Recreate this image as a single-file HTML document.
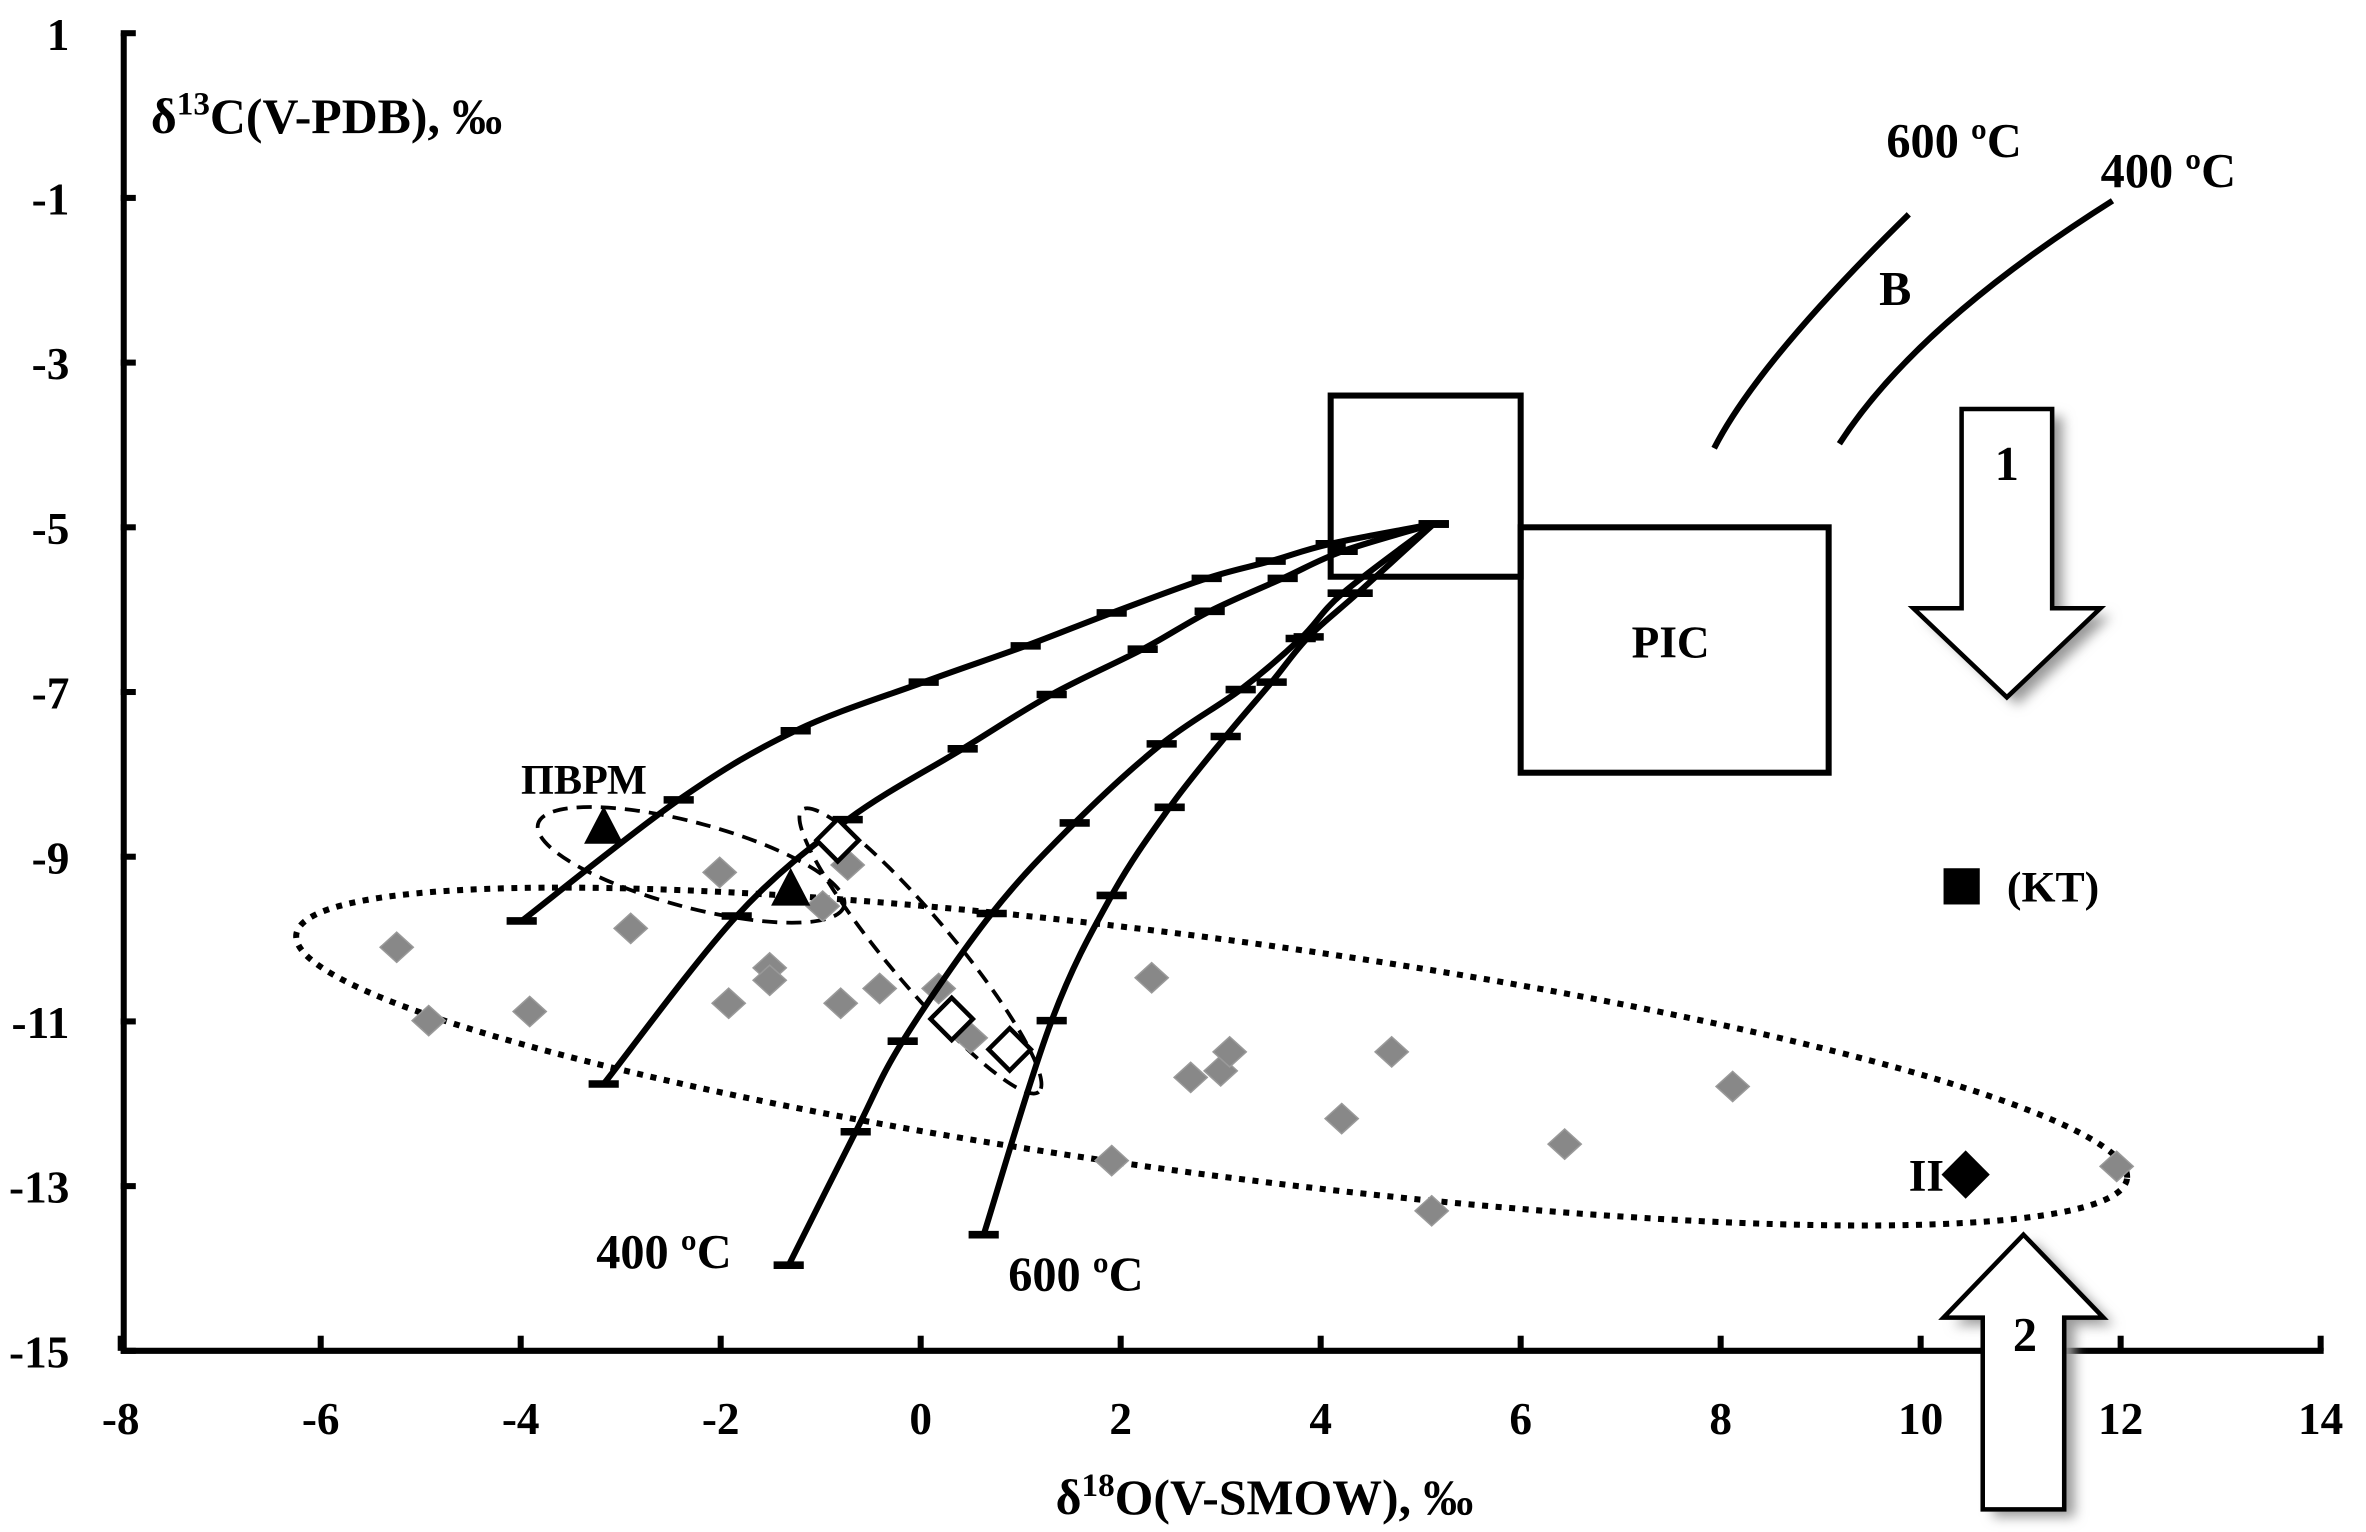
<!DOCTYPE html>
<html><head><meta charset="utf-8">
<style>
html,body{margin:0;padding:0;background:#fff;}
svg{display:block;}
text{font-family:"Liberation Serif",serif;font-weight:bold;fill:#000;}
</style></head>
<body>
<svg id="chart" width="2366" height="1532" viewBox="0 0 1568 1015" preserveAspectRatio="none" xmlns="http://www.w3.org/2000/svg">
<defs>
<filter id="sh" x="-20%" y="-20%" width="160%" height="160%"><feGaussianBlur stdDeviation="4"/></filter>
</defs>
<g id="plot"></g>
</svg>
<script>
const xTicks=[-8,-6,-4,-2,0,2,4,6,8,10,12,14];
const yTicks=[1,-1,-3,-5,-7,-9,-11,-13,-15];
const grayX=[-5.24,-4.92,-3.91,-2.9,-2.01,-1.92,-1.51,-1.51,-0.98,-0.8,-0.41,-0.73,0.18,0.5,1.91,2.31,2.7,3.0,3.09,4.21,4.71,5.11,6.44,8.12,11.96];
const grayY=[-10.1,-10.99,-10.88,-9.87,-9.19,-10.78,-10.35,-10.5,-9.6,-10.78,-10.6,-9.1,-10.6,-11.2,-12.69,-10.47,-11.68,-11.6,-11.37,-12.18,-11.37,-13.3,-12.49,-11.79,-12.76];
const triX=[-3.17,-1.3];
const triY=[-8.66,-9.41];
const openX=[-0.83,0.31,0.89];
const openY=[-8.8,-10.97,-11.34];
const curveAX=[-3.99,-2.42,-1.25,0.03,1.05,1.91,2.86,3.5,4.1,5.13];
const curveAY=[-9.78,-8.31,-7.47,-6.88,-6.44,-6.04,-5.62,-5.41,-5.2,-4.96];
const curveBX=[-3.17,-1.84,-0.73,0.42,1.31,2.22,2.89,3.62,4.22,5.13];
const curveBY=[-11.76,-9.72,-8.55,-7.69,-7.03,-6.48,-6.02,-5.62,-5.29,-4.96];
const curveCX=[-1.32,-0.65,-0.18,0.71,1.54,2.41,3.2,3.8,4.22,5.13];
const curveCY=[-13.96,-12.34,-11.24,-9.69,-8.59,-7.63,-6.97,-6.35,-5.8,-4.96];
const curveDX=[0.63,1.31,1.91,2.49,3.05,3.51,3.88,4.37,5.13];
const curveDY=[-13.59,-10.99,-9.47,-8.4,-7.54,-6.88,-6.33,-5.8,-4.96];
const ktX=[10.41], ktY=[-9.36];
const iiX=[10.45], iiY=[-12.86];

const X=v=>80+(v+8)*66.27;
const Y=v=>22+(1-v)*54.56;
const NS="http://www.w3.org/2000/svg";
const g=document.getElementById('plot');
function mk(tag,attrs,parent){const e=document.createElementNS(NS,tag);for(const k in attrs)e.setAttribute(k,attrs[k]);(parent||g).appendChild(e);return e;}
function txt(s,x,y,size,anchor){const t=mk('text',{x:x,y:y,'font-size':size,'text-anchor':anchor||'start'});t.textContent=s;return t;}

let ya=mk('line',{x1:X(-8)+2,y1:Y(1),x2:X(-8)+2,y2:Y(-15),stroke:'#000','stroke-width':4});


let xa=mk('line',{x1:X(-8),y1:Y(-15),x2:X(14)+2,y2:Y(-15),stroke:'#000','stroke-width':4});


yTicks.forEach(v=>{
  mk('line',{x1:X(-8),y1:Y(v),x2:X(-8)+10,y2:Y(v),stroke:'#000','stroke-width':4});
  const t=txt(String(v),46,Y(v)+11,30,'end');
  
  
});
xTicks.forEach(v=>{
  mk('line',{x1:X(v),y1:Y(-15),x2:X(v),y2:Y(-15)-10,stroke:'#000','stroke-width':4});
  const t=txt(String(v),X(v),Y(-15)+55,30,'middle');
  
  
});
let yt=mk('text',{x:100,y:88,'font-size':33});
yt.innerHTML='δ<tspan font-size="22" dy="-12">13</tspan><tspan dy="12">C(V-PDB), ‰</tspan>';


let xt=mk('text',{x:838,y:1003,'font-size':33,'text-anchor':'middle'});
xt.innerHTML='δ<tspan font-size="22" dy="-12">18</tspan><tspan dy="12">O(V-SMOW), ‰</tspan>';



let b1=mk('rect',{x:X(4.1),y:Y(-3.4),width:X(6)-X(4.1),height:Y(-5.6)-Y(-3.4),fill:'none',stroke:'#000','stroke-width':4});


let b2=mk('rect',{x:X(6),y:Y(-5),width:X(9.08)-X(6),height:Y(-7.98)-Y(-5),fill:'none',stroke:'#000','stroke-width':4});


let pl=txt('PIC',X(7.5),Y(-6.4)+10,30,'middle');



let e1=mk('ellipse',{cx:803,cy:700,rx:612,ry:78,transform:'rotate(7.6 803 700)',fill:'none',stroke:'#000','stroke-width':4,'stroke-dasharray':'4 5'});


let e2=mk('ellipse',{cx:458,cy:573,rx:105,ry:28,transform:'rotate(15 458 573)',fill:'none',stroke:'#000','stroke-width':2.5,'stroke-dasharray':'10 6'});


let e3=mk('ellipse',{cx:610,cy:630,rx:122,ry:22,transform:'rotate(50 610 630)',fill:'none',stroke:'#000','stroke-width':2.5,'stroke-dasharray':'10 6'});



grayX.forEach((v,i)=>{
  const x=X(v),y=Y(grayY[i]);
  const p=mk('polygon',{points:`${x},${y-10} ${x+11},${y} ${x},${y+10} ${x-11},${y}`,fill:'#888',stroke:'#999','stroke-width':1});
  
  
});

function curve(xs,ys,name){
  const pts=xs.map((v,i)=>[X(v),Y(ys[i])]);
  let d='M'+pts[0].join(',');
  for(let i=1;i<pts.length;i++){
    const p0=pts[Math.max(0,i-2)],p1=pts[i-1],p2=pts[i],p3=pts[Math.min(pts.length-1,i+1)];
    const c1=[p1[0]+(p2[0]-p0[0])/6,p1[1]+(p2[1]-p0[1])/6],c2=[p2[0]-(p3[0]-p1[0])/6,p2[1]-(p3[1]-p1[1])/6];
    d+=` C${c1.join(',')} ${c2.join(',')} ${p2.join(',')}`;
  }
  const path=mk('path',{d:d,fill:'none',stroke:'#000','stroke-width':4});
  
  
  pts.forEach(p=>{
    const t=mk('line',{x1:p[0]-10,y1:p[1],x2:p[0]+10,y2:p[1],stroke:'#000','stroke-width':5});
    
    
  });
}
curve(curveAX,curveAY,'mixing-curve-a');
curve(curveBX,curveBY,'mixing-curve-b');
curve(curveCX,curveCY,'mixing-curve-400c');
curve(curveDX,curveDY,'mixing-curve-600c');

triX.forEach((v,i)=>{
  const x=X(v),y=Y(triY[i]);
  const p=mk('polygon',{points:`${x},${y-15} ${x+13},${y+10} ${x-13},${y+10}`,fill:'#000'});
  
  
});
openX.forEach((v,i)=>{
  const x=X(v),y=Y(openY[i]);
  const p=mk('polygon',{points:`${x},${y-14} ${x+14},${y} ${x},${y+14} ${x-14},${y}`,fill:'#fff',stroke:'#000','stroke-width':3});
  
  
});
ktX.forEach((v,i)=>{
  const x=X(v),y=Y(ktY[i]);
  const p=mk('rect',{x:x-12,y:y-12,width:24,height:24,fill:'#000'});
  
  
  const t=txt('(KT)',x+30,y+10,29);
  
  
});
iiX.forEach((v,i)=>{
  const x=X(v),y=Y(iiY[i]);
  const p=mk('polygon',{points:`${x},${y-16} ${x+16},${y} ${x},${y+16} ${x-16},${y}`,fill:'#000'});
  
  
  const t=txt('II',x-26,y+11,30,'middle');
  
  
});

[['ПВРМ',387,526,28,'middle','pvrm-label'],['400 ºC',440,840,32,'middle','curve-400c-label'],['600 ºC',713,855,32,'middle','curve-600c-label'],
 ['600 ºC',1295,104,32,'middle','b-600c-label'],['400 ºC',1437,124,32,'middle','b-400c-label'],['B',1256,202,32,'middle','b-label']].forEach(a=>{
  const t=txt(a[0],a[1],a[2],a[3],a[4]);
  
  
});
let l1=mk('path',{d:'M1136,297 Q1165,240 1265,142',fill:'none',stroke:'#000','stroke-width':4});


let l2=mk('path',{d:'M1219,294 Q1270,215 1400,133',fill:'none',stroke:'#000','stroke-width':4});



const a1='1300,271 1360,271 1360,403 1392,403 1330,462 1268,403 1300,403';
mk('polygon',{points:a1,fill:'#999',transform:'translate(7,5)',filter:'url(#sh)'});
let ar1=mk('polygon',{points:a1,fill:'#fff',stroke:'#000','stroke-width':3});


let t1=txt('1',1330,318,32,'middle');


const a2='1341,818 1394,873 1368,873 1368,1000 1314,1000 1314,873 1288,873';
mk('polygon',{points:a2,fill:'#999',transform:'translate(7,5)',filter:'url(#sh)'});
let ar2=mk('polygon',{points:a2,fill:'#fff',stroke:'#000','stroke-width':3});


let t2=txt('2',1342,895,32,'middle');


</script>
</body></html>
